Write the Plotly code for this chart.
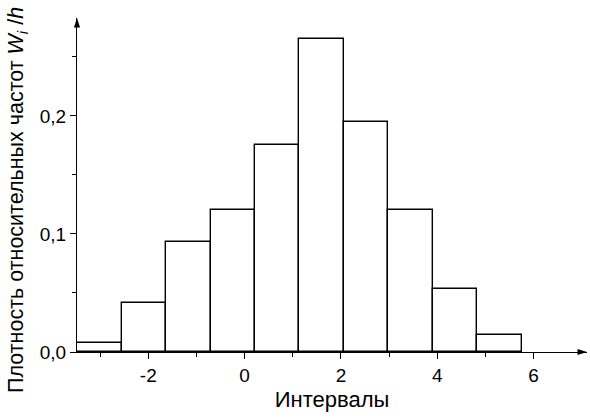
import plotly.graph_objects as go

# Data
bin_left_edges = [-3.48, -2.556, -1.632, -0.708, 0.216, 1.14, 2.064, 2.988, 3.912, 4.836]
bin_width = 0.924
densities = [0.008, 0.0415, 0.093, 0.12, 0.175, 0.265, 0.195, 0.12, 0.053, 0.0147]

x_tickvals = [-2, 0, 2, 4, 6]
x_ticktext = ["-2", "0", "2", "4", "6"]
y_tickvals = [0.0, 0.1, 0.2]
y_ticktext = ["0,0", "0,1", "0,2"]

x_range = [-3.48, 7.11]
y_range = [0, 0.283]

y_title = "Плотность относительных частот <i>W<sub>i</sub></i> /<i>h</i>"
x_title = "Интервалы"

centers = [e + bin_width / 2 for e in bin_left_edges]

fig = go.Figure()
fig.add_trace(go.Bar(
    x=centers, y=densities, width=bin_width,
    marker=dict(color="white", line=dict(color="black", width=1.4)),
    showlegend=False, hoverinfo="skip",
))

# Axis arrowheads
fig.add_trace(go.Scatter(
    x=[x_range[1], x_range[0]], y=[y_range[0], y_range[1]],
    mode="markers", cliponaxis=False, showlegend=False, hoverinfo="skip",
    marker=dict(symbol="arrow", angle=[90, 0], size=10, color="black",
                line=dict(width=0)),
))

font = dict(family="Liberation Sans, Arial, sans-serif", size=19, color="black")

fig.update_layout(
    width=590, height=420,
    margin=dict(l=77, r=3, t=18, b=68),
    plot_bgcolor="white", paper_bgcolor="white",
    font=font,
    bargap=0,
    xaxis=dict(
        range=x_range, showgrid=False, zeroline=False, automargin=False,
        showline=True, linecolor="black", linewidth=1.2,
        tickvals=x_tickvals, ticktext=x_ticktext,
        ticks="outside", ticklen=6, tickwidth=1, tickcolor="black",
        minor=dict(tickvals=[-3, -1, 1, 3, 5], ticks="outside", ticklen=4, tickcolor="black"),
        tickfont=dict(size=19),
        title=dict(text=x_title, font=dict(size=22), standoff=6),
    ),
    yaxis=dict(
        range=y_range, showgrid=False, zeroline=False, automargin=False,
        showline=True, linecolor="black", linewidth=1.2,
        tickvals=y_tickvals, ticktext=y_ticktext,
        ticks="outside", ticklen=6, tickwidth=1, tickcolor="black",
        minor=dict(tickvals=[0.05, 0.15, 0.25], ticks="outside", ticklen=4, tickcolor="black"),
        tickfont=dict(size=19),
    ),
)

# Y-axis title as a rotated annotation (placed lower than plot centre, as in the reference)
fig.add_annotation(
    text=y_title, xref="paper", yref="paper",
    x=-60 / 510, y=(352 - 200) / 334, xanchor="center", yanchor="middle",
    textangle=-90, showarrow=False, font=dict(size=21.5),
)

fig.write_html("out.html", config={"displayModeBar": False},
               post_script="document.body.style.margin='0';document.body.style.padding='0';")
